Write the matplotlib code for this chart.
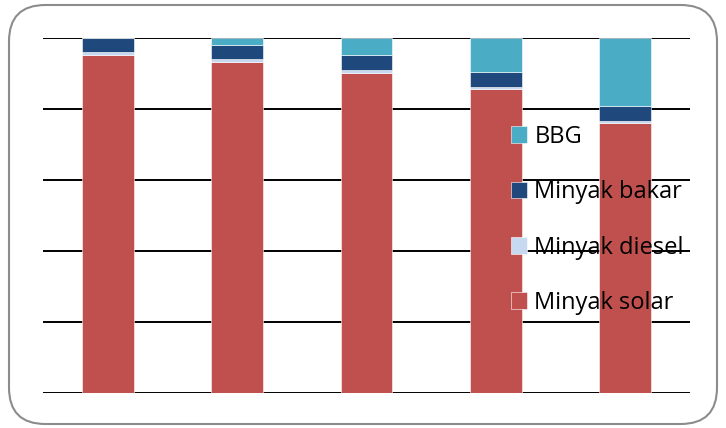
import matplotlib.pyplot as plt
import numpy as np
from matplotlib.patches import FancyBboxPatch

# shares (%) per bar
kategori = ['1', '2', '3', '4', '5']
minyak_solar = [95.2, 93.2, 90.2, 85.6, 76.1]
minyak_diesel = [0.85, 0.85, 0.85, 0.7, 0.7]
minyak_bakar = [4.0, 4.0, 4.1, 4.2, 4.1]
bbg = [0.0, 2.0, 4.9, 9.6, 19.2]

warna = {'Minyak solar': '#C0504D', 'Minyak diesel': '#C6D9F1',
         'Minyak bakar': '#1F497D', 'BBG': '#4BACC6'}

plt.rcParams['font.family'] = ['Open Sans', 'DejaVu Sans']

fig = plt.figure(figsize=(7.26, 4.28), dpi=100)
ax = fig.add_axes([43/726, 1-393/428, 647/726, 355/428])

# rounded frame round the whole chart
frame = FancyBboxPatch((9/726, 4/428), 708/726, 419/428,
                       boxstyle='round,pad=0,rounding_size=0.05',
                       transform=fig.transFigure, facecolor='none',
                       edgecolor='#8c8c8c', linewidth=1.5, mutation_aspect=726/428)
fig.patches.append(frame)

x = np.arange(len(kategori))
series = [('Minyak solar', minyak_solar), ('Minyak diesel', minyak_diesel),
          ('Minyak bakar', minyak_bakar), ('BBG', bbg)]
tot = np.array(minyak_solar) + np.array(minyak_diesel) + np.array(minyak_bakar) + np.array(bbg)
bottom = np.zeros(len(kategori))
handles = {}
for nama, vals in series:
    v = np.array(vals) / tot * 100
    b = ax.bar(x, v, 0.4, bottom=bottom, color=warna[nama], label=nama,
               edgecolor='white', linewidth=0.4, zorder=2)
    handles[nama] = b
    bottom += v

ax.set_xlim(-0.5, 4.5)
ax.set_ylim(0, 100)
ax.set_yticks([0, 20, 40, 60, 80, 100])
ax.yaxis.grid(True, color='black', linewidth=1.4, zorder=0)
ax.set_axisbelow(True)
ax.tick_params(left=False, bottom=False, labelleft=False, labelbottom=False)
for s in ax.spines.values():
    s.set_visible(False)

order = ['BBG', 'Minyak bakar', 'Minyak diesel', 'Minyak solar']
leg = fig.legend([handles[n] for n in order], order, loc='upper left',
                 bbox_to_anchor=(499/726, 1-113/428), frameon=False,
                 fontsize=17, handlelength=0.7, handleheight=0.7,
                 handletextpad=0.3, labelspacing=1.33, borderpad=0)
leg.set_zorder(5)

fig.savefig('out.png', dpi=100)
